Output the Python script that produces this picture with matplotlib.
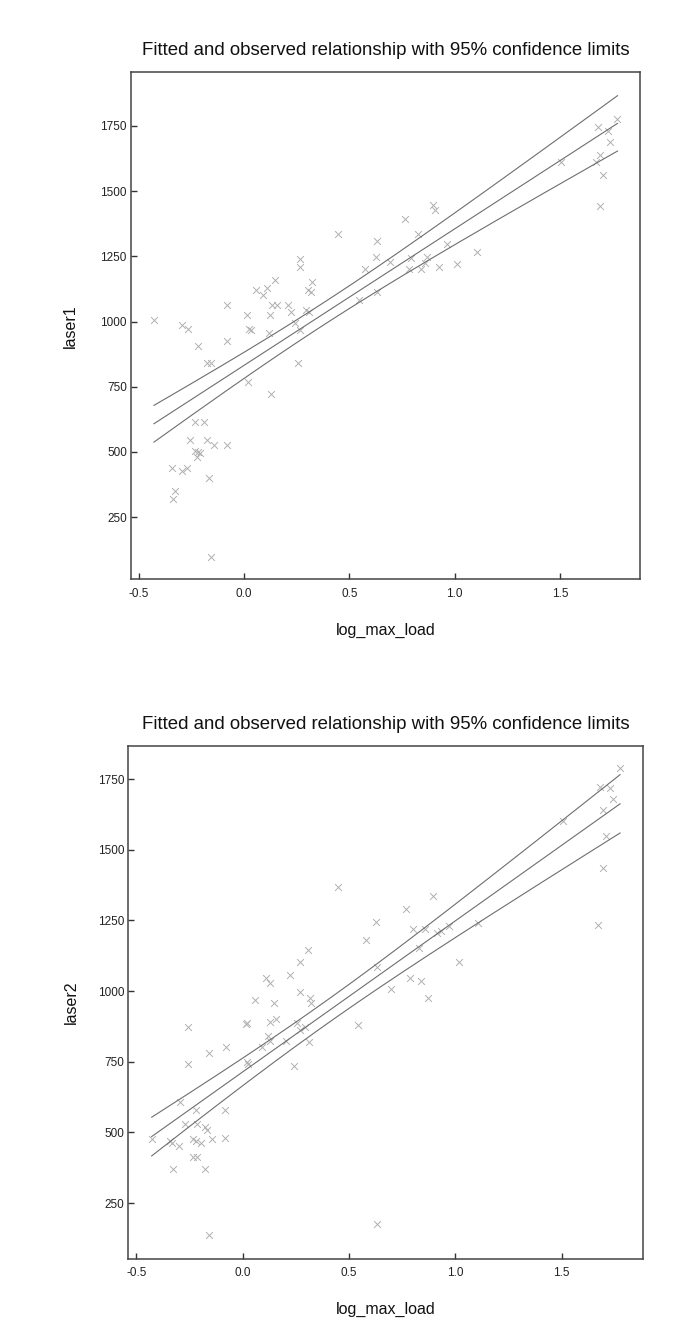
import numpy as np
import matplotlib
matplotlib.use("Agg")
import matplotlib.pyplot as plt

plt.rcParams['font.family'] = ['Liberation Sans', 'DejaVu Sans']

# ---------------- data ----------------
x1 = [-0.428, -0.344, -0.339, -0.328, -0.296, -0.296, -0.272, -0.265, -0.257, -0.233,
      -0.233, -0.222, -0.217, -0.217, -0.209, -0.190, -0.177, -0.174, -0.165, -0.158,
      -0.157, -0.143, -0.082, -0.082, -0.082, 0.016, 0.020, 0.025, 0.032, 0.056,
      0.089, 0.108, 0.119, 0.124, 0.128, 0.132, 0.146, 0.155, 0.208, 0.225,
      0.242, 0.258, 0.266, 0.268, 0.268, 0.293, 0.306, 0.310, 0.317, 0.322,
      0.448, 0.548, 0.576, 0.627, 0.630, 0.630, 0.694, 0.765, 0.785, 0.792,
      0.825, 0.839, 0.860, 0.868, 0.899, 0.906, 0.928, 0.966, 1.013, 1.105,
      1.506, 1.672, 1.679, 1.691, 1.691, 1.704, 1.731, 1.739, 1.774]
y1 = [1007, 440, 321, 351, 987, 429, 438, 970, 546, 614,
      505, 480, 907, 501, 495, 614, 840, 546, 400, 840,
      98, 527, 1064, 927, 527, 1024, 770, 972, 966, 1122,
      1102, 1130, 955, 1024, 722, 1064, 1161, 1064, 1064, 1035,
      996, 840, 966, 1239, 1210, 1045, 1122, 1035, 1113, 1151,
      1336, 1083, 1201, 1249, 1307, 1113, 1230, 1394, 1201, 1242,
      1336, 1201, 1224, 1249, 1445, 1426, 1211, 1299, 1220, 1268,
      1611, 1610, 1745, 1639, 1444, 1560, 1729, 1688, 1776]

x2 = [-0.428, -0.342, -0.334, -0.329, -0.298, -0.295, -0.271, -0.259, -0.256, -0.235,
      -0.235, -0.220, -0.220, -0.216, -0.213, -0.196, -0.177, -0.176, -0.167, -0.157,
      -0.157, -0.146, -0.083, -0.083, -0.079, 0.016, 0.019, 0.022, 0.026, 0.058,
      0.089, 0.108, 0.120, 0.128, 0.128, 0.128, 0.147, 0.155, 0.202, 0.222,
      0.241, 0.254, 0.270, 0.270, 0.270, 0.293, 0.306, 0.313, 0.317, 0.321,
      0.450, 0.544, 0.578, 0.627, 0.630, 0.630, 0.696, 0.767, 0.787, 0.800,
      0.831, 0.839, 0.857, 0.870, 0.897, 0.912, 0.933, 0.970, 1.017, 1.108,
      1.508, 1.673, 1.681, 1.693, 1.696, 1.709, 1.728, 1.743, 1.775]
y2 = [478, 468, 462, 372, 450, 608, 529, 871, 743, 476,
      411, 578, 470, 531, 411, 462, 519, 372, 509, 782,
      136, 478, 578, 479, 802, 882, 749, 888, 743, 968,
      803, 1045, 841, 1027, 890, 823, 959, 900, 823, 1057,
      733, 888, 1104, 998, 862, 871, 1145, 821, 977, 959,
      1369, 880, 1181, 1244, 1084, 175, 1006, 1289, 1045, 1221,
      1153, 1035, 1221, 977, 1338, 1206, 1212, 1230, 1104, 1242,
      1601, 1232, 1723, 1642, 1436, 1548, 1719, 1680, 1790]

x_label = "log_max_load"
y_labels = ["laser1", "laser2"]
title = "Fitted and observed relationship with 95% confidence limits"
x_ticks = [-0.5, 0.0, 0.5, 1.0, 1.5]
y_ticks = [250, 500, 750, 1000, 1250, 1500, 1750]
t_crit = 1.99


def fit_with_ci(x, y):
    x = np.asarray(x, float)
    y = np.asarray(y, float)
    n = len(x)
    b, a = np.polyfit(x, y, 1)
    resid = y - (a + b * x)
    s = np.sqrt(np.sum(resid ** 2) / (n - 2))
    xbar = x.mean()
    sxx = np.sum((x - xbar) ** 2)
    xs = np.linspace(x.min(), x.max(), 200)
    yh = a + b * xs
    half = t_crit * s * np.sqrt(1.0 / n + (xs - xbar) ** 2 / sxx)
    return xs, yh, yh - half, yh + half


fig = plt.figure(figsize=(6.73, 13.22), dpi=100)
ax_top = fig.add_axes([0.1947, 0.5618, 0.7563, 0.3834])
ax_bot = fig.add_axes([0.1906, 0.0479, 0.7652, 0.3878])

panels = [
    (ax_top, x1, y1, y_labels[0], (-0.537, 1.881), (12, 1955), -0.105),
    (ax_bot, x2, y2, y_labels[1], (-0.538, 1.884), (53, 1867), -0.096),
]

for ax, xs_, ys_, ylab, xl, yl, ylx in panels:
    ax.scatter(xs_, ys_, marker='x', s=24, linewidths=0.7, color='#b0b0b0', zorder=2)
    xx, yh, lo, hi = fit_with_ci(xs_, ys_)
    for yy in (hi, yh, lo):
        ax.plot(xx, yy, color='#6e6e6e', lw=0.8, zorder=3)
    ax.set_xlim(*xl)
    ax.set_ylim(*yl)
    ax.set_xticks(x_ticks)
    ax.set_xticklabels([f"{v:.1f}" for v in x_ticks])
    ax.set_yticks(y_ticks)
    ax.tick_params(direction='in', length=4, width=1.0, color='#333333',
                   labelsize=8.5, labelcolor='#222222')
    ax.tick_params(axis='x', pad=6)
    ax.tick_params(axis='y', pad=3)
    for sp in ax.spines.values():
        sp.set_color('#444444')
        sp.set_linewidth(1.1)
    ax.set_title(title, fontsize=13.4, pad=12.5, color='#111111')
    ax.set_xlabel(x_label, fontsize=11.5, color='#111111')
    ax.set_ylabel(ylab, fontsize=11.5, color='#111111')
    ax.xaxis.set_label_coords(0.5, -0.085)
    ax.yaxis.set_label_coords(ylx, 0.5)

fig.savefig("out.png", dpi=100)
